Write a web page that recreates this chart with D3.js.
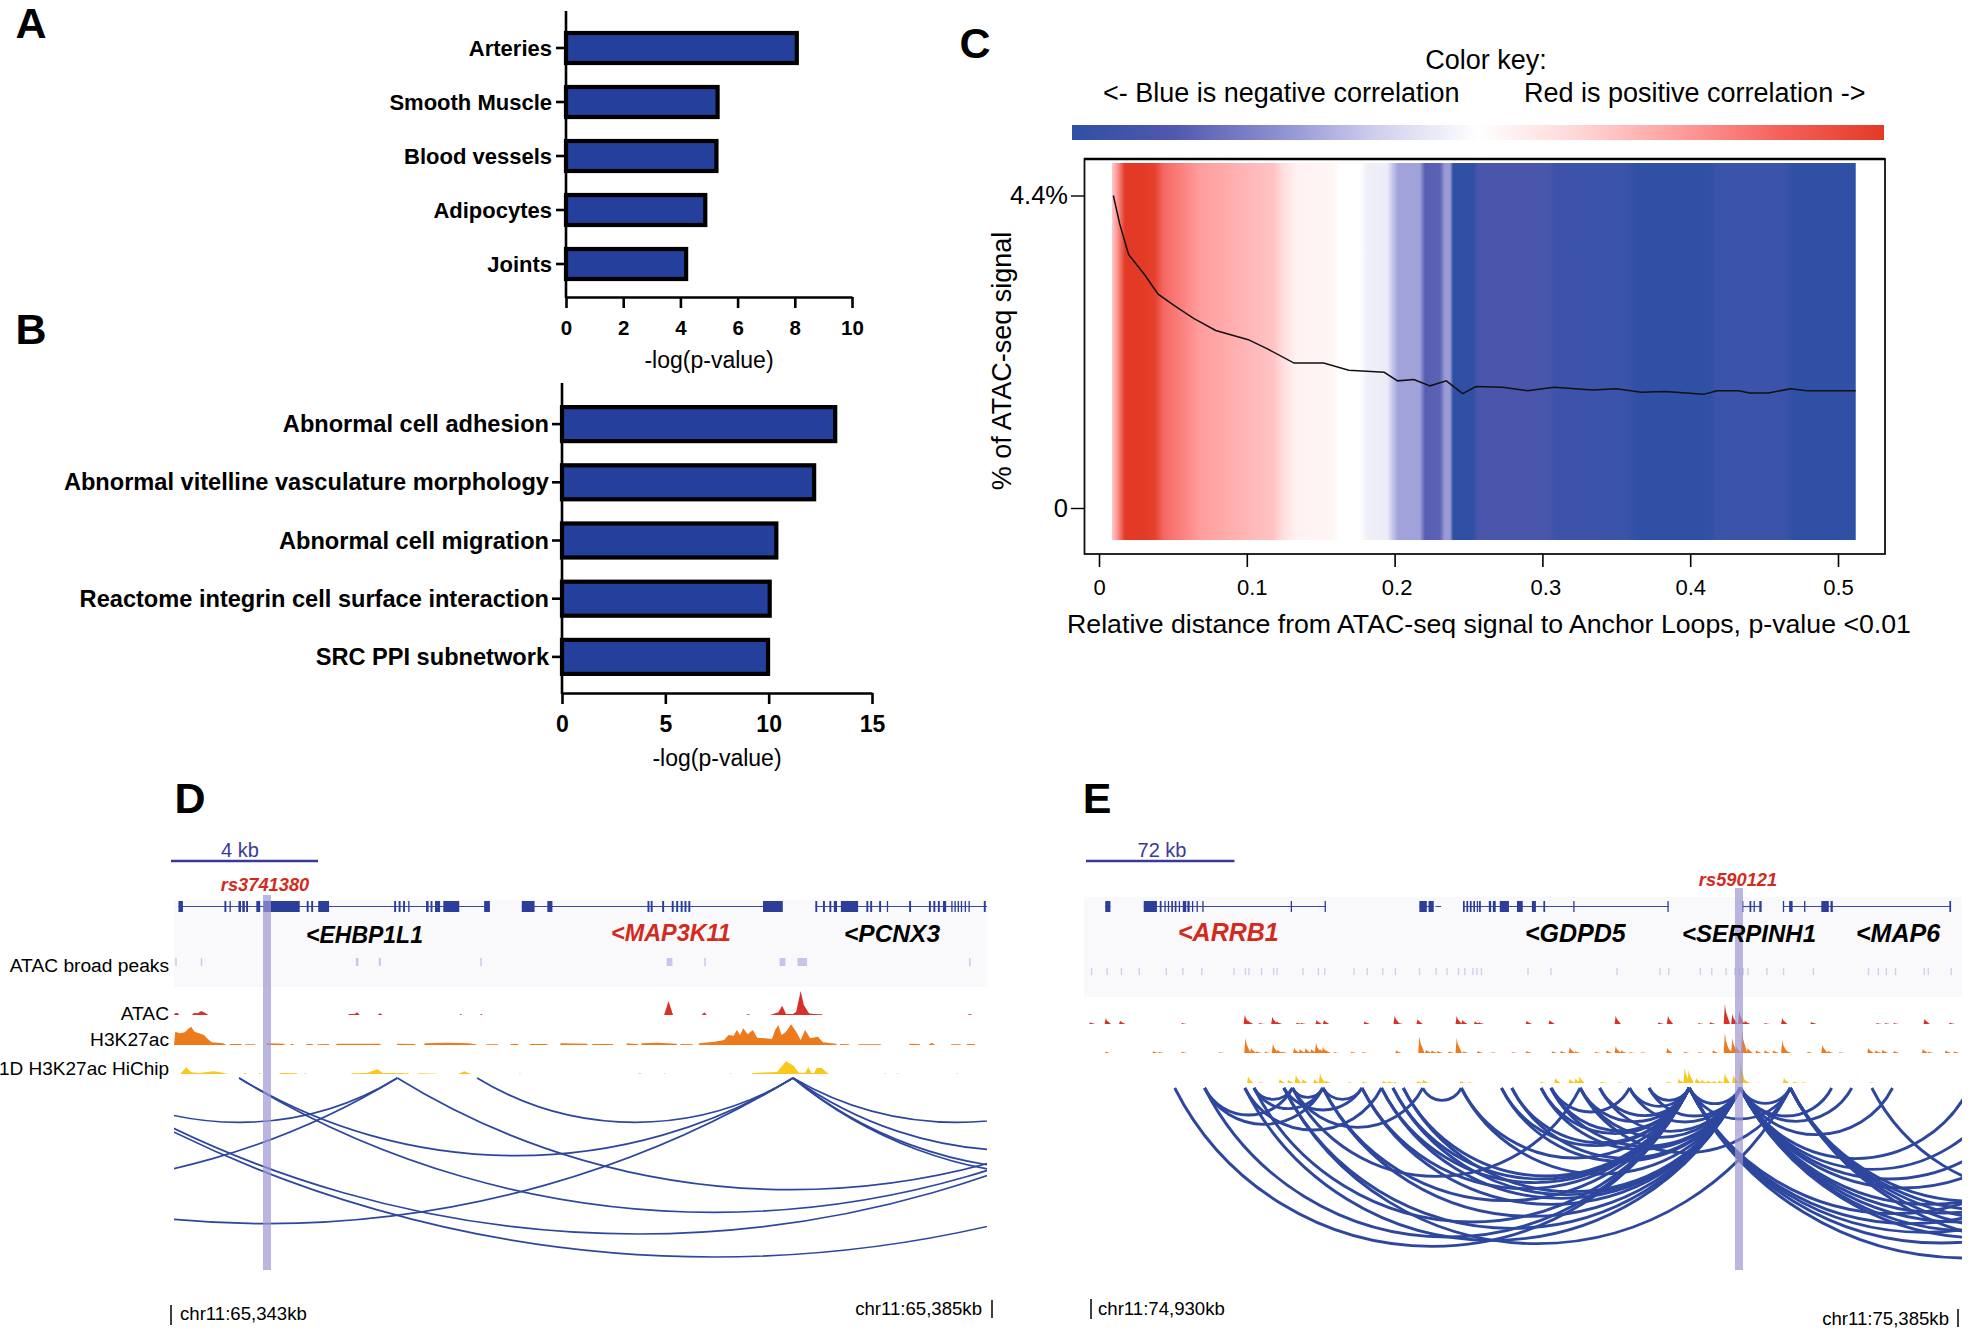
<!DOCTYPE html>
<html><head><meta charset="utf-8">
<script src="https://cdn.jsdelivr.net/npm/d3@7/dist/d3.min.js"></script>
<style>html,body{margin:0;padding:0;background:#fff}svg{display:block}text{font-family:"Liberation Sans",Arial,sans-serif}</style>
</head><body><svg id="c" width="1968" height="1330"></svg>
<script>
// ---------- Panel A / B ----------
const aCategories=["Arteries","Smooth Muscle","Blood vessels","Adipocytes","Joints"];
const aValues=[8.07,5.3,5.26,4.87,4.2];
const aTicks=[0,2,4,6,8,10];
const bCategories=["Abnormal cell adhesion","Abnormal vitelline vasculature morphology","Abnormal cell migration","Reactome integrin cell surface interaction","SRC PPI subnetwork"];
const bValues=[13.22,12.2,10.37,10.05,9.97];
const bTicks=[0,5,10,15];
// ---------- Panel C ----------
const lineDist=[.0097,.014,.020,.031,.040,.051,.064,.079,.101,.114,.132,.152,.169,.193,.202,.213,.224,.235,.246,.255,.273,.290,.308,.334,.350,.367,.383,.409,.418,.433,.440,.453,.468,.479,.512];
const linePct=[4.40,4.00,3.57,3.28,3.01,2.85,2.67,2.50,2.37,2.24,2.04,2.04,1.94,1.91,1.79,1.81,1.72,1.79,1.61,1.71,1.70,1.65,1.70,1.66,1.68,1.63,1.64,1.60,1.65,1.65,1.62,1.62,1.68,1.65,1.65];
const heatDist=[.0088,.012,.0176,.030,.038,.0435,.055,.068,.091,.118,.1245,.134,.158,.163,.1766,.181,.195,.199,.2025,.217,.2206,.2307,.234,.2375,.2396,.253,.2565,.303,.310,.356,.365,.413,.418,.464,.470,.512];
const heatCorr=[.3,.5,1,1,.95,.72,.62,.5,.42,.33,.2,.08,.06,0,0,-.08,-.1,-.3,-.42,-.42,-.72,-.7,-.45,-.45,-1,-1,-.8,-.8,-.9,-.91,-1,-1,-.91,-.91,-1,-1];
const corrStops=[-1,-.75,-.5,-.25,0,.25,.5,.75,1];
const corrColors=["#2f50a5","#5058ae","#8b8dd0","#cfcfee","#ffffff","#ffd6d6","#ff9c9c","#f4605a","#e33a25"];
const cXTicks=[0,.1,.2,.3,.4,.5];
const cXLabelShift=[0,5,2,3,0,0];
// ---------- Panel D ----------
const dIntrons=[[280,768],[818,1225],[1278,1547]];
const dExons=[[280,287],[352,355],[360,362],[374,378],[380,384],[386,389],[402,408],[413,470],[481,484],[488,491],[499,516],[618,621],[625,628],[632,635],[640,642],[668,672],[675,678],[682,690],[695,720],[759,768],[818,838],[858,866],[1015,1018],[1020,1023],[1038,1041],[1053,1056],[1060,1063],[1067,1070],[1073,1076],[1079,1082],[1196,1227],[1278,1281],[1290,1293],[1300,1303],[1307,1312],[1318,1345],[1358,1361],[1364,1367],[1378,1381],[1390,1392],[1425,1428],[1456,1459],[1463,1466],[1470,1473],[1478,1483],[1491,1493],[1496,1498],[1501,1503],[1506,1508],[1512,1514],[1518,1520],[1542,1545]];
const dBroadPeaks=[[275,277],[315,317],[558,562],[594,597],[753,755],[1045,1054],[1104,1106],[1222,1231],[1250,1265],[1519,1521]];
const dAtac=[[273,0],[275,6],[279,6],[281,0],[301,0],[304,6],[310,5],[316,12],[322,6],[327,0],[545,0],[548,3],[556,3],[560,8],[564,0],[592,0],[596,5],[600,0],[720,0],[722,3],[725,0],[752,0],[755,3],[757,0],[1041,0],[1048,42],[1055,0],[1100,0],[1104,8],[1108,0],[1170,0],[1173,3],[1176,0],[1207,0],[1212,3],[1220,8],[1226,28],[1232,3],[1243,3],[1248,10],[1255,72],[1260,30],[1268,5],[1275,3],[1288,2],[1290,0],[1516,0],[1520,3],[1524,0]];
const dH3k=[[273,0],[275,40],[282,35],[290,38],[295,48],[300,55],[305,40],[312,35],[320,30],[326,18],[332,8],[350,5],[355,0],[360,0],[361,3],[378,3],[380,0],[384,0],[385,2],[400,2],[401,0],[418,0],[419,5],[445,4],[447,0],[455,0],[456,3],[460,3],[461,0],[480,0],[481,3],[490,3],[491,0],[497,0],[498,2],[515,3],[517,0],[527,0],[528,4],[595,4],[598,0],[622,0],[623,4],[650,3],[652,0],[665,0],[666,5],[700,7],[735,5],[745,2],[748,0],[762,0],[763,2],[780,2],[782,0],[800,0],[801,3],[812,3],[813,0],[830,0],[831,3],[857,3],[859,0],[878,0],[879,5],[920,4],[922,0],[928,0],[929,3],[960,3],[962,0],[982,0],[983,5],[1000,2],[1002,0],[1005,0],[1006,5],[1030,7],[1060,4],[1062,0],[1066,0],[1067,3],[1085,2],[1087,0],[1095,0],[1096,5],[1120,10],[1135,15],[1142,30],[1150,28],[1155,45],[1160,30],[1165,50],[1172,32],[1180,45],[1187,22],[1210,18],[1215,45],[1220,60],[1225,30],[1232,40],[1240,62],[1248,40],[1255,15],[1262,45],[1270,20],[1282,25],[1290,8],[1310,4],[1312,0],[1316,0],[1317,3],[1330,2],[1332,0],[1345,0],[1346,2],[1380,2],[1382,0],[1425,0],[1426,4],[1441,3],[1443,0],[1455,0],[1460,7],[1466,0],[1490,0],[1491,2],[1505,2],[1507,0],[1515,0],[1516,3],[1527,3],[1529,0]];
const dHiChip=[[283,0],[292,20],[300,5],[312,3],[322,5],[335,8],[345,5],[358,0],[382,0],[384,3],[388,0],[405,0],[408,2],[412,0],[437,0],[440,3],[465,2],[467,0],[476,0],[478,2],[480,0],[550,0],[552,2],[575,3],[592,14],[600,3],[640,2],[642,0],[655,0],[657,2],[685,1],[687,0],[718,0],[728,8],[736,2],[738,0],[813,0],[815,2],[818,0],[1000,0],[1003,3],[1006,0],[1040,0],[1042,2],[1044,0],[1143,0],[1145,2],[1147,0],[1178,0],[1180,3],[1218,6],[1232,38],[1244,25],[1252,4],[1262,4],[1267,20],[1272,3],[1276,3],[1280,18],[1288,18],[1297,3],[1299,0],[1385,0],[1387,2],[1389,0],[1405,0],[1407,2],[1409,0],[1498,0],[1500,2],[1502,0],[1528,0],[1530,1],[1532,0]];
const dLoops=[[127,623,133],[-600,623,328],[375,1243,233],[623,1857,335],[375,1865,403],[748,1243,133],[-403,1243,437],[1243,1757,133],[1243,1950,218],[1243,2050,275],[1243,2100,295],[127,1873,468],[118,2122,537]];
// ---------- Panel E ----------
const eIntrons=[[65,74],[132,449],[612,637],[640,650],[688,1046],[1174,1208],[1245,1538]];
const eExons=[[65,74],[132,155],[160,163],[168,170],[174,176],[180,183],[186,189],[193,195],[200,206],[208,212],[216,218],[224,226],[234,236],[388,390],[447,449],[612,625],[628,637],[688,691],[694,697],[700,703],[706,709],[712,714],[716,719],[733,737],[740,745],[752,768],[782,792],[808,815],[828,831],[880,882],[1044,1046],[1174,1176],[1187,1190],[1194,1196],[1204,1208],[1245,1247],[1256,1262],[1282,1284],[1312,1325],[1328,1332],[1535,1538]];
const eBroadPeaks=[40,67,92,123,170,199,232,288,308,314,336,357,363,408,435,446,497,520,547,569,611,640,659,679,690,704,711,719,800,840,955,1030,1045,1100,1120,1145,1160,1168,1175,1183,1216,1245,1297,1393,1410,1424,1440,1490,1497,1537];
const eAtac=[[40,5],[67,18],[92,10],[200,3],[309,28],[315,10],[335,3],[357,22],[365,8],[400,4],[408,3],[434,12],[447,12],[518,8],[570,25],[575,5],[610,15],[678,24],[688,12],[710,8],[717,5],[800,10],[840,12],[955,25],[1030,5],[1046,25],[1100,3],[1120,5],[1145,60],[1158,30],[1170,40],[1180,10],[1215,3],[1245,18],[1296,6],[1410,3],[1425,3],[1440,3],[1493,16],[1537,4]];
const eH3k=[[67,4],[150,5],[160,4],[200,4],[265,2],[310,45],[320,15],[330,5],[345,4],[358,28],[366,10],[375,4],[395,15],[405,12],[415,15],[425,12],[433,30],[440,12],[445,18],[450,10],[465,3],[495,4],[515,3],[573,8],[613,50],[625,10],[635,8],[645,6],[665,5],[678,45],[690,5],[715,6],[740,2],[775,3],[800,6],[845,5],[860,6],[875,18],[885,5],[920,4],[940,8],[955,20],[965,8],[980,3],[1000,2],[1045,15],[1075,4],[1100,3],[1125,8],[1145,60],[1150,20],[1158,45],[1165,20],[1175,68],[1185,15],[1200,8],[1215,8],[1230,8],[1245,38],[1252,8],[1290,4],[1315,25],[1325,6],[1345,2],[1395,15],[1408,8],[1420,10],[1440,6],[1490,12],[1500,4],[1530,8],[1545,5]];
const eHiChip=[[315,20],[335,2],[370,12],[385,10],[398,25],[410,12],[430,12],[440,30],[450,8],[490,2],[515,4],[550,6],[560,5],[570,3],[610,6],[620,10],[685,6],[700,3],[825,4],[850,15],[875,12],[885,14],[892,20],[930,4],[960,2],[1045,4],[1065,12],[1075,45],[1082,40],[1095,15],[1105,10],[1115,8],[1125,6],[1135,8],[1145,30],[1160,25],[1172,70],[1180,10],[1200,1],[1248,15],[1265,4],[1280,2],[1398,2]];
const eLoops=[
[186,1082,475],[238,1082,447],[324,1082,402],[444,1082,338],[512,1082,302],[546,1082,284],[566,1082,273],[584,1082,264],[685,1082,210],[755,1082,173],[773,1082,164],[824,1082,137],[841,1082,128],[892,1082,101],[926,1082,83],[978,1082,55],[1012,1082,37],
[308,1171,457],[376,1171,421],[444,1171,385],[512,1171,349],[546,1171,331],[566,1171,320],[584,1171,311],[685,1171,258],[755,1171,220],[773,1171,211],[824,1171,184],[841,1171,175],[892,1171,148],[926,1171,130],[978,1171,102],[1012,1171,84],[1082,1171,47],
[376,1258,467],[892,1258,194],[1082,1258,93],[1171,1258,46],
[238,391,81],[238,444,109],[308,546,126],[324,391,34],[324,444,62],[391,444,28],[376,512,66],[444,512,34],[391,618,118],[618,685,37],[391,892,265],[842,978,72],
[1171,1330,84],[1171,1365,100],[1171,1436,140],[1171,1570,212],[1171,1630,244],[1171,1687,273],[1171,1737,300],[1171,1830,349],[1171,1880,375],[1171,1930,402],[1171,1980,429],[1171,2020,450],
[1082,1798,377],[1082,1850,407],[1082,1900,433],[1082,1960,465],[1082,2044,510],
[1258,1900,340],[1258,1950,367],[1258,2000,393],[1258,2060,425],[1258,2130,462],[1400,2000,318]];

const svg=d3.select("#c");
const FG="#000",BLUE="#243f9c",LOOP="#2d479f",RED="#d32a1e";

function label(s,x,y,o={}){
  const t=svg.append("text").attr("x",x).attr("y",y).text(s)
   .attr("text-anchor",o.anchor||"start").attr("dominant-baseline","central")
   .attr("font-size",o.size||16).attr("font-weight",o.weight||"normal").attr("font-style",o.style||"normal")
   .attr("fill",o.fill||FG);
  if(o.rot!=null)t.attr("transform",`rotate(${o.rot} ${x} ${y})`);
  return t;
}
[["A",31,23],["B",31,329],["C",975,43],["D",190,798],["E",1097,798]].forEach(p=>label(p[0],p[1],p[2],{anchor:"middle",size:43,weight:"bold"}));

function barPanel(cats,vals,ticks,o){
  const x=d3.scaleLinear().domain([0,ticks[ticks.length-1]]).range([o.x0,o.x1]);
  const y=d3.scaleBand().domain(cats).range([o.bandTop,o.bandBottom]);
  const g=svg.append("g");
  const bh=o.barH;
  g.selectAll("rect").data(cats).join("rect")
   .attr("x",x(0)).attr("y",c=>y(c)+y.bandwidth()/2-bh/2)
   .attr("width",(c,i)=>x(vals[i])-x(0)).attr("height",bh)
   .attr("fill",BLUE).attr("stroke","#000").attr("stroke-width",4.2);
  const ax=g.append("g").attr("transform",`translate(0,${o.bottom})`).call(d3.axisBottom(x).tickValues(ticks).tickFormat(d3.format("d")).tickSize(11).tickSizeOuter(0));
  ax.select(".domain").attr("stroke-width",2.6);
  ax.selectAll(".tick line").attr("stroke-width",2.6);
  ax.selectAll("text").attr("font-family",'"Liberation Sans"').attr("font-weight","bold").attr("font-size",o.tickFont).attr("dy",0).attr("y",o.tickY-o.bottom).attr("dominant-baseline","central");
  const ay=g.append("g").attr("transform",`translate(${o.x0},0)`).call(d3.axisLeft(y).tickSize(10).tickSizeOuter(0));
  ay.select(".domain").remove();
  ay.selectAll(".tick line").attr("stroke-width",2.6);
  ay.selectAll("text").attr("font-family",'"Liberation Sans"').attr("font-weight","bold").attr("font-size",o.catFont).attr("x",o.catX).attr("dy",0).attr("dominant-baseline","central");
  g.append("line").attr("x1",o.x0).attr("x2",o.x0).attr("y1",o.top).attr("y2",o.bottom+1).attr("stroke","#000").attr("stroke-width",2.6);
  label("-log(p-value)",o.titleX,o.titleY,{anchor:"middle",size:23});
}
barPanel(aCategories,aValues,aTicks,{x0:566,x1:852,top:11,bottom:297,bandTop:21,bandBottom:291,barH:30,tickY:327,tickFont:20.5,catFont:22,catX:-14,titleX:709,titleY:360});
barPanel(bCategories,bValues,bTicks,{x0:562,x1:872,top:383,bottom:693,bandTop:395,bandBottom:686,barH:34,tickY:724,tickFont:23,catFont:23.6,catX:-13,titleX:717,titleY:758});

// ---------- Panel C ----------
const corrColor=d3.scaleLinear().domain(corrStops).range(corrColors);
const cx=d3.scaleLinear().domain([0,.5]).range([1099,1838]);
const cy=d3.scaleLinear().domain([0,4.4]).range([508,195.5]);
const defs=svg.append("defs");
const keyGrad=defs.append("linearGradient").attr("id","keyG");
corrStops.forEach((v,i)=>keyGrad.append("stop").attr("offset",i/(corrStops.length-1)).attr("stop-color",corrColors[i]));
const hx0=cx(heatDist[0]),hx1=cx(heatDist[heatDist.length-1]);
const heatGrad=defs.append("linearGradient").attr("id","heatG");
heatDist.forEach((d,i)=>heatGrad.append("stop").attr("offset",(cx(d)-hx0)/(hx1-hx0)).attr("stop-color",corrColor(heatCorr[i])));
svg.append("rect").attr("x",1072).attr("y",125).attr("width",812).attr("height",15).attr("fill","url(#keyG)");
label("Color key:",1486,60,{anchor:"middle",size:27});
label("<- Blue is negative correlation",1103,93,{size:27});
label("Red is positive correlation ->",1524,93,{size:27});
svg.append("rect").attr("x",hx0).attr("y",163).attr("width",hx1-hx0).attr("height",377).attr("fill","url(#heatG)");
svg.append("path").attr("d",d3.line().x(d=>cx(d)).y((d,i)=>cy(linePct[i]))(lineDist)).attr("fill","none").attr("stroke","#111").attr("stroke-width",1.5);
svg.append("rect").attr("x",1084.5).attr("y",159).attr("width",800.5).attr("height",395).attr("fill","none").attr("stroke","#111").attr("stroke-width",1.8);
svg.append("line").attr("x1",1084).attr("x2",1885).attr("y1",159).attr("y2",159).attr("stroke","#000").attr("stroke-width",2.4);
const caxis=svg.append("g").attr("transform","translate(0,554)").call(d3.axisBottom(cx).tickValues(cXTicks).tickFormat(d=>d===0?"0":String(d)).tickSize(13).tickSizeOuter(0));
caxis.select(".domain").remove();
caxis.selectAll(".tick line").attr("stroke-width",1.6);
caxis.selectAll("text").attr("font-family",'"Liberation Sans"').attr("font-size",22).attr("dy",0).attr("x",(d,i)=>cXLabelShift[i]).attr("y",33).attr("dominant-baseline","central");
const cyaxis=svg.append("g").attr("transform","translate(1085,0)").call(d3.axisLeft(cy).tickValues([0,4.4]).tickFormat(d=>d?d+"%":"0").tickSize(14).tickSizeOuter(0));
cyaxis.select(".domain").remove();
cyaxis.selectAll(".tick line").attr("stroke-width",1.4);
cyaxis.selectAll("text").attr("font-family",'"Liberation Sans"').attr("font-size",25.5).attr("x",-17).attr("dy",-1).attr("dominant-baseline","central");
label("Relative distance from ATAC-seq signal to Anchor Loops, p-value <0.01",1489,624,{anchor:"middle",size:26.7});
label("% of ATAC-seq signal",1002,361,{anchor:"middle",size:27,rot:-90});

// ---------- Tracks ----------
function trackPanel(o){
  const x=d3.scaleLinear().domain(o.domain).range(o.range);
  const g=svg.append("g");
  const clipId="clip"+o.id;
  defs.append("clipPath").attr("id",clipId).append("rect").attr("x",o.range[0]).attr("y",o.arcTop-2).attr("width",o.range[1]-o.range[0]).attr("height",300);
  g.append("rect").attr("x",o.range[0]).attr("y",o.bgTop).attr("width",o.range[1]-o.range[0]).attr("height",o.bgH).attr("fill","#f9f9fb");
  g.selectAll(".intr").data(o.introns).join("line").attr("x1",d=>x(d[0])).attr("x2",d=>x(d[1])).attr("y1",906.5).attr("y2",906.5).attr("stroke","#3a4aa0").attr("stroke-width",1.1);
  g.selectAll(".ex").data(o.exons).join("rect").attr("x",d=>x(d[0])).attr("y",901).attr("width",d=>Math.max(1.3,x(d[1])-x(d[0]))).attr("height",11).attr("fill","#2d3e9a");
  o.peaks.forEach(p=>g.append("rect").attr("x",x(p[0])).attr("y",o.peakTop).attr("width",Math.max(1.4,x(p[1])-x(p[0]))).attr("height",o.peakH).attr("fill",o.peakFill));
  const tracks=[[o.atac,o.atacBase,"#d6322a"],[o.h3k,o.h3kBase,"#ee7a1e"],[o.hichip,o.hiBase,"#f9c81a"]];
  tracks.forEach(([groups,base,col])=>{
    const a=d3.area().x(d=>x(d[0])).y0(base).y1(d=>base-d[1]/3);
    g.append("path").attr("d",groups.map(a).join("")).attr("fill",col);
  });
  const loopG=g.append("g").attr("clip-path",`url(#${clipId})`);
  loopG.selectAll("path").data(o.loops).join("path").attr("fill","none").attr("stroke",LOOP).attr("stroke-width",o.loopW)
   .attr("d",d=>{const a=x(d[0]),b=x(d[1]),h=(b-a)/2,dp=d[2]/3,r=(h*h+dp*dp)/(2*dp);return `M${a},${o.arcTop}A${r},${r} 0 0 0 ${b},${o.arcTop}`;});
  g.append("rect").attr("x",o.hl[0]).attr("y",o.hl[1]).attr("width",o.hl[2]).attr("height",1270-o.hl[1]).attr("fill","#9c97d1").attr("opacity",.7);
  g.append("line").attr("x1",o.bar[0]).attr("x2",o.bar[1]).attr("y1",861).attr("y2",861).attr("stroke","#3a3a96").attr("stroke-width",2.6);
  label(o.barLabel,o.barX,850,{anchor:"middle",size:o.barSize,fill:"#3a3a96"});
  label(o.rs,o.rsX,o.rsY,{anchor:"middle",size:18.3,weight:"bold",style:"italic",fill:RED});
  o.genes.forEach(n=>label(n[0],n[1],n[2],{size:n[4],weight:"bold",style:"italic",fill:n[3]?RED:"#000"}));
}
trackPanel({id:"D",domain:[273,1547],range:[174,987],introns:dIntrons,exons:dExons,peaks:dBroadPeaks,peakTop:958,peakH:8,peakFill:"#c5c6ea",
  atac:[dAtac],atacBase:1015,h3k:[dH3k],h3kBase:1045,hichip:[dHiChip],hiBase:1074,loops:dLoops,loopW:1.7,arcTop:1078,bgTop:900,bgH:87,
  hl:[263,895,8],bar:[171,318],barX:240,barSize:20,rs:"rs3741380",barLabel:"4 kb",rsX:265,rsY:884,
  genes:[["<EHBP1L1",306,935,0,23],["<MAP3K11",611,933,1,23.4],["<PCNX3",844,933,0,24.5]]});
const toPeak=p=>p.map(([c,h])=>[[c-3,0],[c-1,h],[c+1,h*.6],[c+8,0]]);
trackPanel({id:"E",domain:[28,1557],range:[1084,1962],introns:eIntrons,exons:eExons,peaks:eBroadPeaks.map(p=>[p,p+2]),peakTop:968,peakH:7,peakFill:"#d0d0f0",
  atac:toPeak(eAtac),atacBase:1024,h3k:toPeak(eH3k),h3kBase:1053,hichip:toPeak(eHiChip),hiBase:1083,loops:eLoops,loopW:2.9,arcTop:1088,bgTop:897,bgH:100,
  hl:[1735,888,8],bar:[1086,1234.5],barLabel:"72 kb",barX:1162,barSize:20,rs:"rs590121",rsX:1738,rsY:879,
  genes:[["<ARRB1",1178,932,1,25],["<GDPD5",1525,933,0,25],["<SERPINH1",1682,933,0,24],["<MAP6",1856,933,0,25]]});
// track labels and coordinates
label("ATAC broad peaks",169,965,{anchor:"end",size:19.2});
label("ATAC",169,1013,{anchor:"end",size:19.2});
label("H3K27ac",169,1039,{anchor:"end",size:19.2});
label("1D H3K27ac HiChip",169,1068,{anchor:"end",size:19});
function coord(s,tx,y1,y2,lx,ly,anchor){
  svg.append("line").attr("x1",tx).attr("x2",tx).attr("y1",y1).attr("y2",y2).attr("stroke","#000").attr("stroke-width",1.5);
  label(s,lx,ly,{anchor:anchor,size:18.6});
}
coord("chr11:65,343kb",171,1305,1325,180,1313,"start");
coord("chr11:65,385kb",992,1300,1318,982,1308,"end");
coord("chr11:74,930kb",1091,1299,1319,1098,1308,"start");
coord("chr11:75,385kb",1958,1309,1327,1949,1318,"end");
</script></body></html>
